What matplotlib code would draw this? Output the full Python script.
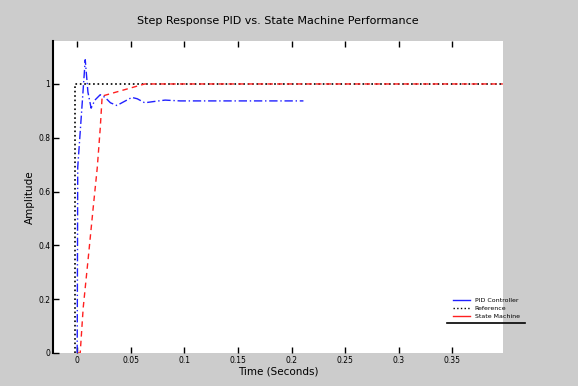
import matplotlib
matplotlib.use('Agg')
import matplotlib.pyplot as plt
from matplotlib.lines import Line2D

# data
pid_t = [0.0, 0.0, 0.0005, 0.0075, 0.010, 0.013, 0.0165, 0.0215, 0.026, 0.031,
         0.037, 0.044, 0.051, 0.056, 0.063, 0.072, 0.082, 0.096, 0.12, 0.15,
         0.18, 0.211]
pid_y = [0.0, 0.0, 0.69, 1.09, 0.97, 0.91, 0.94, 0.96, 0.95, 0.93,
         0.92, 0.935, 0.95, 0.945, 0.93, 0.935, 0.94, 0.937, 0.937, 0.937,
         0.937, 0.937]

ref_t = [-0.002, -0.002, 0.397]
ref_y = [0.0, 1.0, 1.0]

sm_t = [0.0, 0.0028, 0.0056, 0.0103, 0.0149, 0.0187, 0.0215, 0.0233, 0.063, 0.397]
sm_y = [0.0, 0.0, 0.168, 0.353, 0.539, 0.688, 0.836, 0.955, 1.0, 1.0]

x_ticks = [0, 0.05, 0.1, 0.15, 0.2, 0.25, 0.3, 0.35]
y_ticks = [0, 0.2, 0.4, 0.6, 0.8, 1.0]
labels = ['PID Controller', 'Reference', 'State Machine']

fig = plt.figure(figsize=(5.78, 3.86), dpi=100, facecolor='#cccccc')
ax = fig.add_axes([0.092, 0.0855, 0.778, 0.8085])
ax.set_facecolor('white')

ax.plot(ref_t, ref_y, color='black', linestyle=':', linewidth=1.2)
ax.plot(sm_t, sm_y, color='#ff2020', linestyle=(0, (4, 3)), linewidth=1.0)
ax.plot(pid_t, pid_y, color='#2020ff', linestyle=(0, (6, 2, 1, 2)), linewidth=1.0)

ax.set_xlim(-0.0224, 0.397)
ax.set_ylim(0, 1.16)
ax.set_xticks(x_ticks)
ax.set_xticklabels(['0', '0.05', '0.1', '0.15', '0.2', '0.25', '0.3', '0.35'])
ax.set_yticks(y_ticks)
ax.set_yticklabels(['0', '0.2', '0.4', '0.6', '0.8', '1'])
ax.tick_params(axis='both', direction='in', labelsize=5.5, length=4, width=1,
               top=True, colors='black', pad=2)

for side in ['top', 'right', 'bottom']:
    ax.spines[side].set_visible(False)
ax.spines['left'].set_linewidth(1.5)

ax.set_title('Step Response PID vs. State Machine Performance', fontsize=8, pad=12)
ax.set_xlabel('Time (Seconds)', fontsize=7.5, labelpad=1)
ax.set_ylabel('Amplitude', fontsize=7.5)
ax.yaxis.set_label_coords(-0.04, 0.5)

handles = [Line2D([], [], color='#2020ff', linewidth=1.0),
           Line2D([], [], color='black', linestyle=':', linewidth=1.0),
           Line2D([], [], color='#ff2020', linewidth=1.0)]
leg = ax.legend(handles, labels, loc='lower right', bbox_to_anchor=(1.05, 0.09),
                fontsize=4.5, handlelength=2.6, labelspacing=0.45,
                frameon=False)
ax.add_line(Line2D([0.876, 1.049], [0.096, 0.096], transform=ax.transAxes,
                   color='black', linewidth=1.2, clip_on=False))

fig.savefig('out.png', dpi=100, facecolor=fig.get_facecolor())
